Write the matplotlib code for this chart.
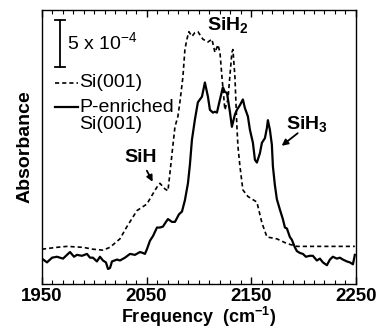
import matplotlib
matplotlib.use("Agg")
import matplotlib.pyplot as plt
from matplotlib.ticker import MultipleLocator, FixedLocator

plt.rcParams['font.family'] = ['Liberation Sans', 'DejaVu Sans']
plt.rcParams['mathtext.fontset'] = 'custom'
plt.rcParams['mathtext.rm'] = 'Liberation Sans'
plt.rcParams['mathtext.bf'] = 'Liberation Sans:bold'

# Si(001) spectrum (dashed), absorbance in units of 1e-4
si_freq = [1950.0, 1964.3, 1973.9, 1989.2, 1998.7, 2008.3, 2015.0, 2024.5, 2031.2,
           2040.8, 2050.3, 2056.1, 2059.9, 2062.7, 2067.5, 2070.4, 2072.3, 2075.2,
           2077.1, 2079.9, 2081.8, 2084.7, 2086.6, 2088.5, 2090.4, 2093.3, 2096.2,
           2099.0, 2103.8, 2108.6, 2112.4, 2115.3, 2118.2, 2120.1, 2122.0, 2124.8,
           2127.7, 2131.5, 2132.5, 2134.4, 2136.3, 2137.3, 2139.2, 2142.0, 2146.8,
           2155.4, 2160.2, 2165.0, 2174.5, 2184.1, 2193.6, 2212.7, 2231.8, 2249.0]
si_abs = [3.7, 3.9, 4.0, 3.9, 3.7, 3.6, 3.9, 4.8, 6.1,
          7.8, 8.5, 9.6, 10.3, 10.7, 10.1, 9.9, 11.8, 14.8,
          16.7, 17.8, 19.3, 22.0, 24.9, 26.0, 26.8, 26.3, 26.7,
          26.8, 26.0, 25.7, 26.0, 24.6, 25.4, 24.6, 22.0, 18.5,
          19.6, 24.6, 24.9, 22.0, 16.7, 14.6, 12.5, 10.0, 9.3,
          8.7, 6.5, 5.0, 4.8, 4.3, 4.0, 4.0, 4.0, 4.0]

# P-enriched Si(001) spectrum (solid)
p_freq = [1950.0, 1954.8, 1959.6, 1964.3, 1970.1, 1973.9, 1976.8, 1980.6, 1983.4,
          1988.2, 1993.0, 1995.9, 1998.7, 2002.5, 2005.4, 2008.3, 2011.1, 2013.1,
          2015.0, 2016.9, 2021.7, 2024.5, 2029.3, 2034.1, 2038.9, 2043.6, 2046.5,
          2048.4, 2050.3, 2053.2, 2056.1, 2059.9, 2062.7, 2065.6, 2068.5, 2070.4,
          2074.2, 2077.1, 2080.9, 2083.8, 2086.6, 2089.5, 2091.4, 2093.3, 2096.2,
          2099.0, 2102.9, 2105.7, 2108.6, 2110.5, 2113.4, 2115.3, 2117.2, 2120.1,
          2122.9, 2124.8, 2126.8, 2129.6, 2131.5, 2134.4, 2136.3, 2139.2, 2142.0,
          2143.9, 2146.8, 2148.7, 2151.6, 2153.5, 2155.4, 2158.3, 2160.2, 2163.1,
          2165.0, 2165.9, 2167.8, 2169.7, 2170.7, 2172.6, 2174.5, 2177.4, 2180.2,
          2182.2, 2184.1, 2186.9, 2188.8, 2191.7, 2193.6, 2196.5, 2199.4, 2202.2,
          2206.0, 2208.9, 2212.7, 2215.6, 2218.5, 2222.3, 2225.2, 2228.0, 2231.8,
          2234.7, 2237.6, 2241.4, 2244.3, 2247.2, 2249.0]
p_abs = [2.7, 2.3, 2.8, 2.9, 2.7, 3.1, 3.4, 2.9, 3.1,
         3.0, 3.2, 2.8, 2.8, 2.4, 2.9, 2.5, 2.3, 1.6,
         1.7, 2.4, 2.6, 2.5, 2.8, 3.2, 3.1, 3.4, 3.3,
         3.2, 3.7, 4.6, 5.1, 6.0, 6.0, 6.1, 6.6, 6.9,
         6.6, 6.6, 7.4, 7.7, 8.9, 10.7, 12.7, 15.3, 17.5,
         19.3, 19.9, 21.4, 19.9, 18.5, 18.2, 18.3, 18.2, 19.6,
         20.9, 20.4, 20.3, 18.3, 16.7, 18.0, 18.5, 19.0, 19.6,
         18.7, 17.8, 16.4, 15.0, 13.2, 12.9, 13.9, 15.0, 15.5,
         16.6, 17.4, 16.4, 14.8, 12.5, 10.5, 9.0, 7.9, 6.9,
         6.0, 5.9, 5.0, 4.7, 3.9, 3.5, 3.3, 3.2, 2.9,
         3.0, 3.0, 2.5, 2.7, 2.3, 2.0, 2.6, 2.9, 2.7,
         2.8, 2.6, 2.4, 2.3, 2.1, 3.1]

fig = plt.figure(figsize=(3.8, 3.28), dpi=100)
ax = fig.add_axes([0.1105, 0.134, 0.826, 0.8355])

ax.plot(si_freq, si_abs, color="black", lw=1.2, linestyle=(0, (2.5, 1.8)))
ax.plot(p_freq, p_abs, color="black", lw=1.6)

ax.set_xlim(1950, 2250)
ax.set_ylim(0, 29.1)

ax.xaxis.set_major_locator(FixedLocator([1950, 2050, 2150, 2250]))
ax.xaxis.set_minor_locator(MultipleLocator(10))
ax.tick_params(axis="x", which="both", direction="in", top=True, bottom=True,
               labelsize=13.5, pad=2.5)
ax.tick_params(axis="x", which="major", length=5, width=1)
ax.tick_params(axis="x", which="minor", length=3, width=0.8)
for lab in ax.get_xticklabels():
    lab.set_fontweight("bold")
ax.set_yticks([])
for s in ax.spines.values():
    s.set_linewidth(1.0)

ax.set_xlabel(r"Frequency  (cm$^{\mathbf{-1}}$)", fontsize=13, fontweight="bold", labelpad=0)
ax.set_ylabel("Absorbance", fontsize=14, fontweight="bold", labelpad=6)

# scale bar (5 x 10^-4)
ax.plot([1967.2, 1967.2], [23.0, 28.0], color="black", lw=1.3)
ax.plot([1962.4, 1972.0], [28.0, 28.0], color="black", lw=1.3)
ax.plot([1962.4, 1972.0], [23.0, 23.0], color="black", lw=1.3)
ax.text(1973.5, 25.6, r"5 x 10$^{-4}$", fontsize=14, va="center", ha="left")

# legend
ax.plot([1962.4, 1984.4], [21.4, 21.4], color="black", lw=1.2, linestyle=(0, (2.5, 1.8)))
ax.text(1985.8, 21.4, "Si(001)", fontsize=14, va="center", ha="left")
ax.plot([1962.4, 1984.4], [18.8, 18.8], color="black", lw=1.6)
ax.text(1985.8, 18.8, "P-enriched", fontsize=14, va="center", ha="left")
ax.text(1985.8, 16.9, "Si(001)", fontsize=14, va="center", ha="left")

# peak labels
ax.text(2127.7, 27.4, r"SiH$_\mathbf{2}$", fontsize=14, fontweight="bold", ha="center", va="center")
ax.text(2044.6, 13.4, "SiH", fontsize=14, fontweight="bold", ha="center", va="center")
ax.text(2203.0, 16.9, r"SiH$_\mathbf{3}$", fontsize=14, fontweight="bold", ha="center", va="center")
ax.annotate("", xy=(2057.0, 10.6), xytext=(2049.0, 12.3),
            arrowprops=dict(arrowstyle="-|>", color="black", lw=1.3, mutation_scale=9))
ax.annotate("", xy=(2177.0, 14.5), xytext=(2196.5, 16.2),
            arrowprops=dict(arrowstyle="-|>", color="black", lw=1.3, mutation_scale=9))

fig.savefig("out.png", dpi=100)
